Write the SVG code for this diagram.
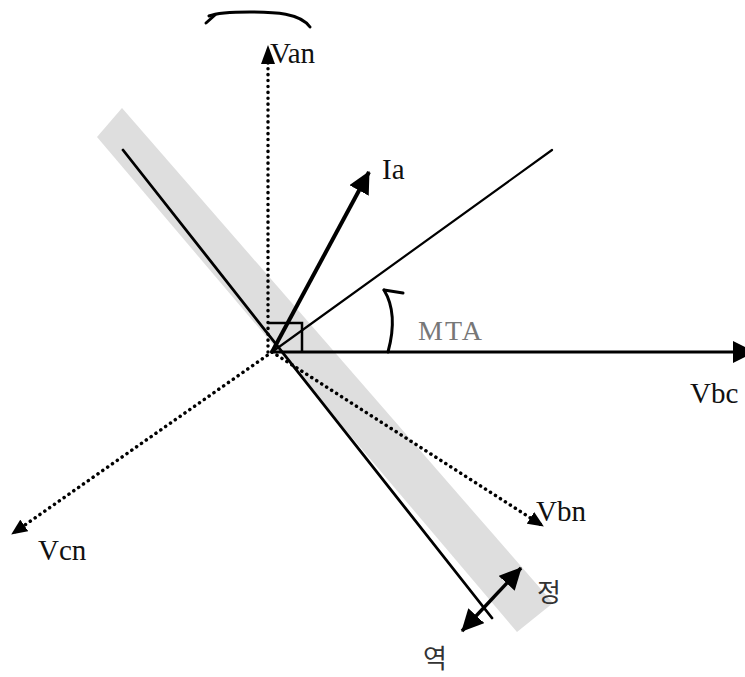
<svg xmlns="http://www.w3.org/2000/svg" width="745" height="677" viewBox="0 0 745 677">
<style>
.lbl{font-family:"Liberation Serif","Times New Roman",serif;font-size:29px;fill:#111}
.mta{font-family:"Liberation Serif",serif;font-size:28px;fill:#777;letter-spacing:2px}
.kr{font-family:"Noto Sans CJK KR",sans-serif;font-size:26px;fill:#333}
.dot{fill:none;stroke:#000;stroke-width:3.5;stroke-linecap:round;stroke-dasharray:0.1 5.8}
.solid{fill:none;stroke:#000;stroke-linecap:round}
</style>
<defs>
<marker id="big" markerUnits="userSpaceOnUse" viewBox="0 0 22 22" markerWidth="22" markerHeight="22" refX="21" refY="11" orient="auto-start-reverse"><path d="M0,0 L22,11 L0,22 Z" fill="#000"/></marker>
<marker id="small" markerUnits="userSpaceOnUse" viewBox="0 0 16 14" markerWidth="16" markerHeight="14" refX="15" refY="7" orient="auto"><path d="M0,0 L16,7 L0,14 Z" fill="#000"/></marker>
<marker id="van" markerUnits="userSpaceOnUse" viewBox="0 0 19 14" markerWidth="19" markerHeight="14" refX="18" refY="7" orient="auto"><path d="M0,0 L19,7 L0,14 Z" fill="#000"/></marker>
</defs>
<g id="band"><polygon points="97,137 122,108 553,603 517,632" fill="#dedede"/></g>
<g id="connectors">
<line class="solid" x1="123" y1="150" x2="492" y2="618" stroke-width="2.8"/>
<line class="dot" x1="268" y1="352" x2="268" y2="46" marker-end="url(#van)"/>
<line class="dot" x1="272" y1="352" x2="12" y2="534" marker-end="url(#small)"/>
<line class="dot" x1="272" y1="352" x2="543" y2="526" marker-end="url(#small)"/>
<line class="solid" x1="272" y1="352" x2="552" y2="150" stroke-width="2.2"/>
<line x1="272" y1="352" x2="754" y2="352" stroke="#000" stroke-width="3" marker-end="url(#big)"/>
<line x1="272" y1="352" x2="369" y2="172" stroke="#000" stroke-width="4" marker-end="url(#big)"/>
<polyline points="268,323 302,323 302,352" fill="none" stroke="#000" stroke-width="2.5"/>
<path class="solid" d="M388,352 C394,330 395,308 384,290" stroke-width="3"/>
<path class="solid" d="M384,290 L403,293" stroke-width="3"/>
<path class="solid" d="M310,27 C300,13 275,12 250,12 C228,12 214,14 209,16" stroke-width="3"/>
<path class="solid" d="M215,15 L206,23" stroke-width="3"/>
<line x1="462" y1="631" x2="521" y2="568" stroke="#000" stroke-width="3.5" marker-start="url(#big)" marker-end="url(#big)"/>
</g>
<g id="labels">
<text class="lbl" x="270" y="63">Van</text>
<text class="lbl" x="382" y="179">Ia</text>
<text class="mta" x="418" y="340">MTA</text>
<text class="lbl" x="690" y="403">Vbc</text>
<text class="lbl" x="536" y="521">Vbn</text>
<text class="lbl" x="38" y="560">Vcn</text>
<text class="kr" x="537" y="602">정</text>
<text class="kr" x="423" y="668">역</text>
</g>
</svg>
